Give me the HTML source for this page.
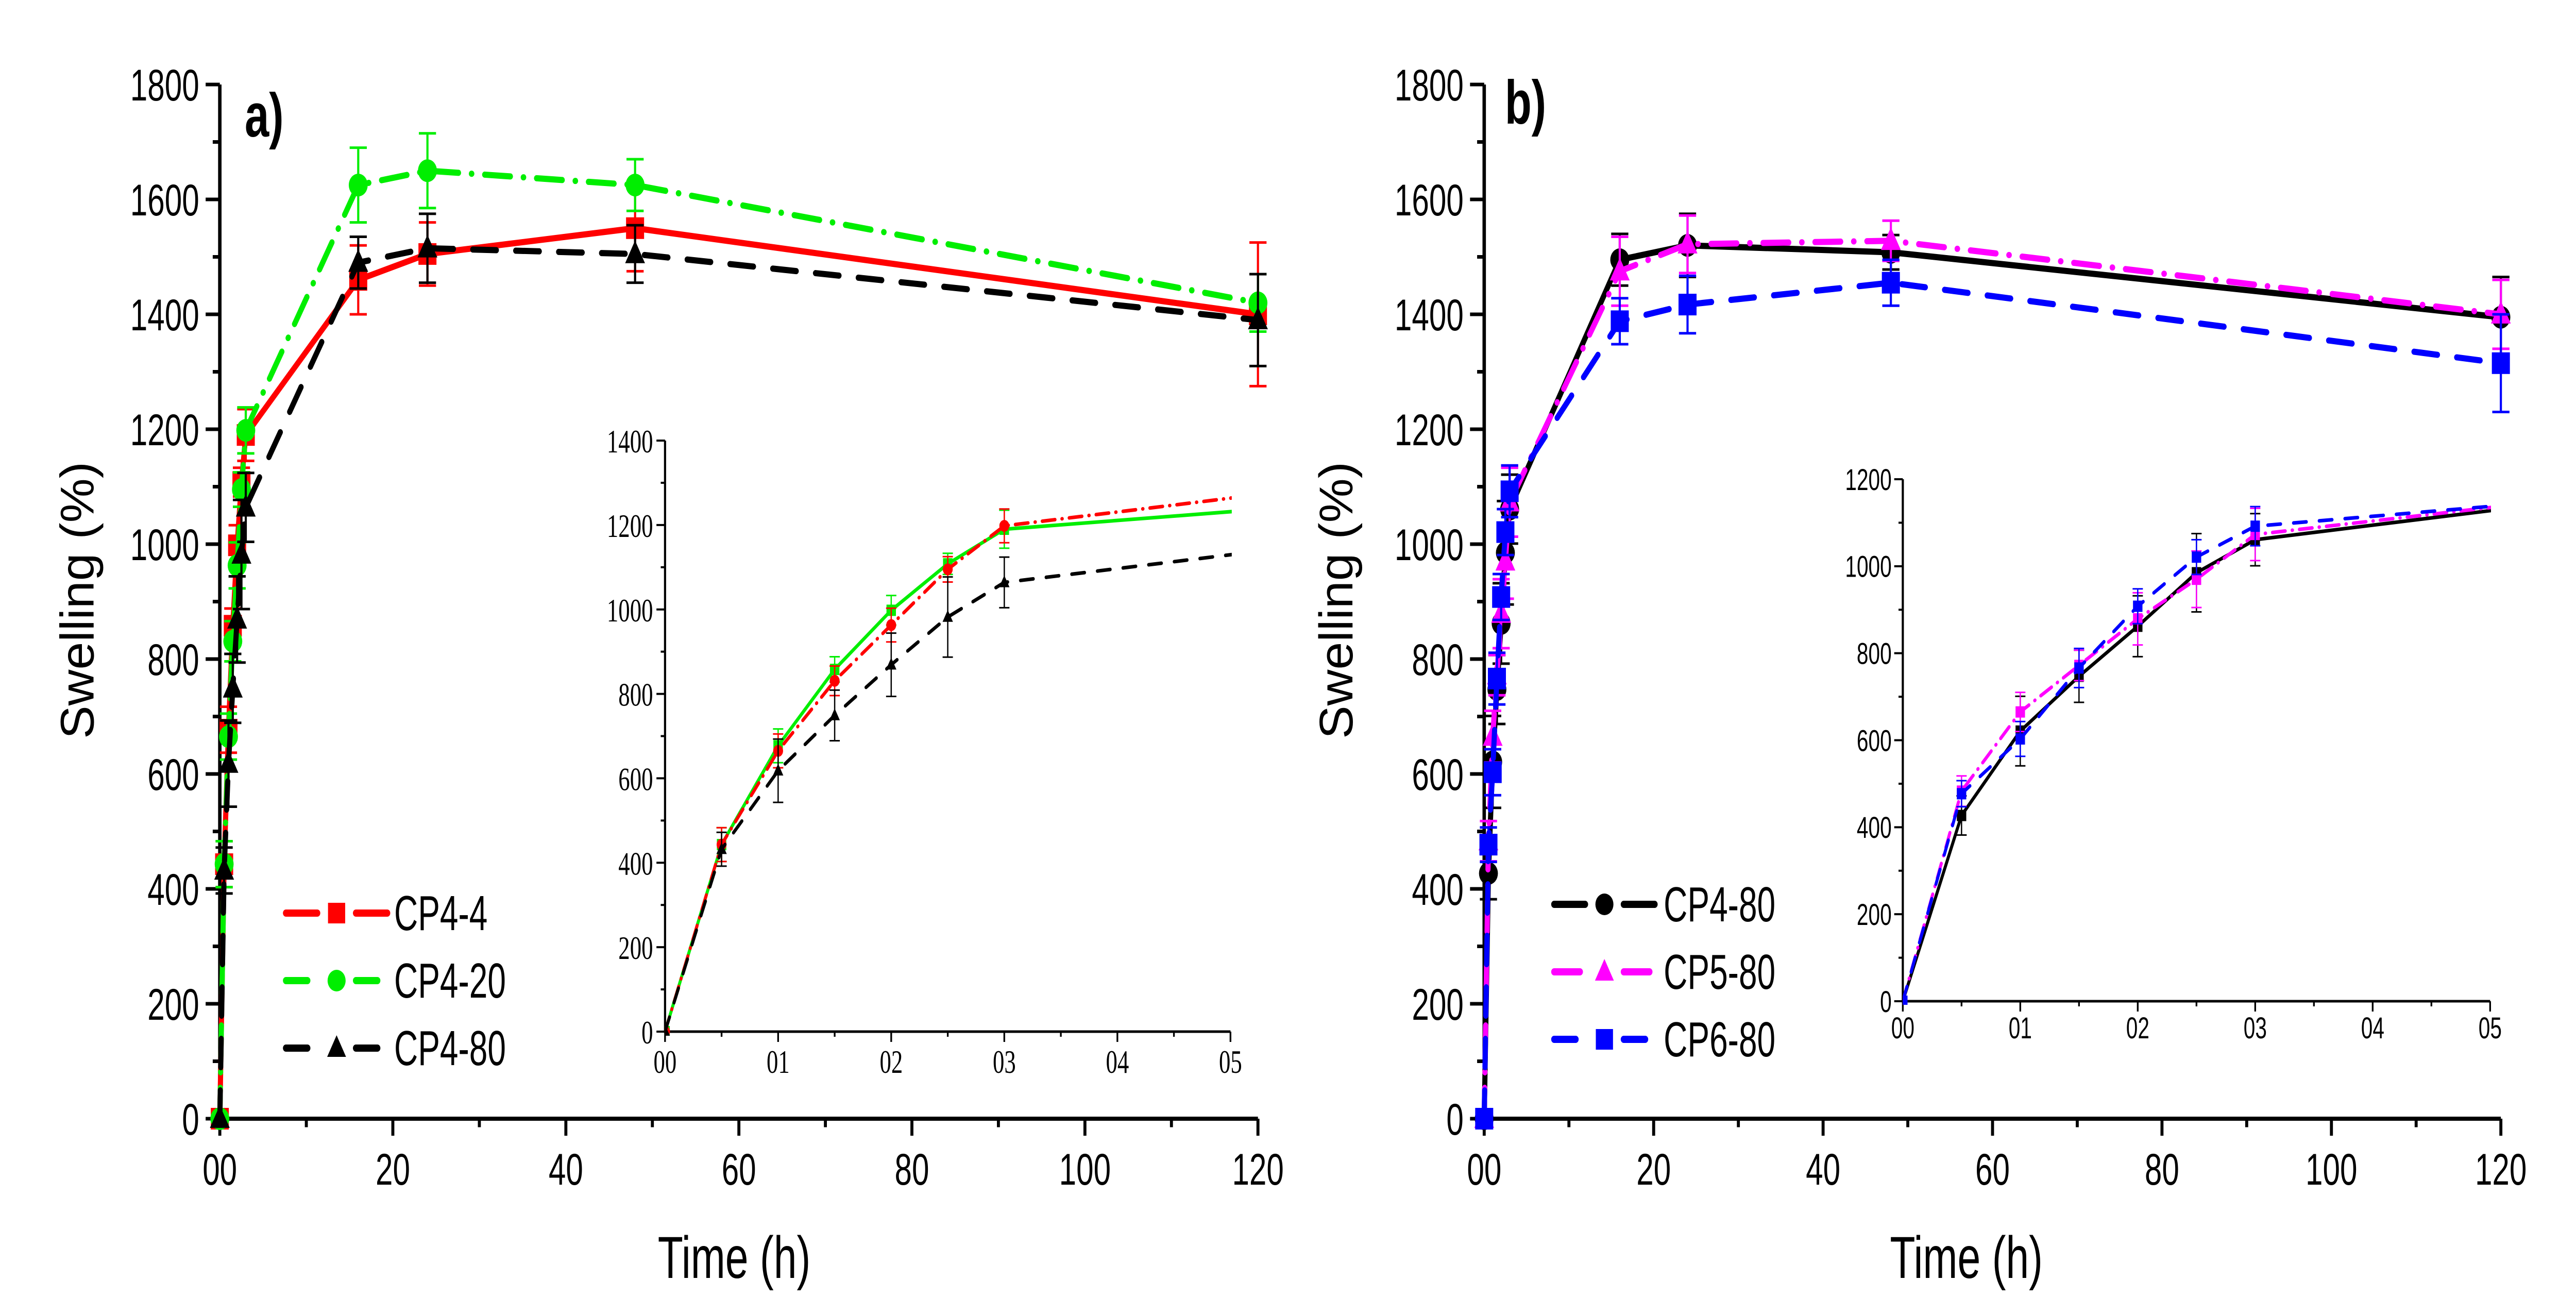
<!DOCTYPE html>
<html><head><meta charset="utf-8"><style>
html,body{margin:0;padding:0;background:#fff;overflow:hidden;width:100%;height:100%;}
svg{display:block;width:100vw;height:100vh;}
text{font-family:"Liberation Sans Narrow","Liberation Sans",sans-serif;}
.ser{font-family:"Liberation Serif",serif;}
</style></head><body>
<svg id="chart" viewBox="0 0 6000 2550" preserveAspectRatio="none" xmlns="http://www.w3.org/2000/svg">
<defs>
<clipPath id="clipA"><rect x="1549" y="700" width="1320" height="1310"/></clipPath>
<clipPath id="clipB"><rect x="4432" y="800" width="1370" height="1150"/></clipPath>
</defs>
</svg>
<script>
// ---------- data ----------
const times = [0, 0.5, 1, 1.5, 2, 2.5, 3, 16, 24, 48, 120];
const cp4_4 = [0, 443, 677, 858, 998, 1108, 1190, 1460, 1505, 1550, 1400];
const cp4_4Err = [0, 40, 40, 30, 35, 25, 45, 60, 55, 75, 125];
const cp4_20 = [0, 443, 665, 831, 963, 1095, 1198, 1625, 1650, 1625, 1420];
const cp4_20Err = [0, 40, 40, 35, 40, 30, 40, 65, 65, 45, 50];
const cp4_80 = [0, 432, 618, 749, 869, 982, 1064, 1490, 1515, 1505, 1390];
const cp4_80Err = [0, 40, 75, 60, 75, 95, 60, 45, 60, 50, 80];
const bCp4_80 = [0, 427, 621, 747, 862, 985, 1061, 1495, 1520, 1508, 1395];
const bCp4_80Err = [0, 45, 80, 60, 70, 90, 60, 45, 55, 30, 70];
const bCp5_80 = [0, 483, 665, 772, 879, 970, 1073, 1475, 1522, 1528, 1400];
const bCp5_80Err = [0, 35, 45, 35, 60, 65, 60, 60, 50, 35, 60];
const bCp6_80 = [0, 477, 603, 766, 908, 1021, 1092, 1388, 1417, 1455, 1315];
const bCp6_80Err = [0, 30, 40, 45, 40, 40, 45, 40, 50, 40, 85];
const mainXTicks = [0, 20, 40, 60, 80, 100, 120];
const mainXLabels = ["00", "20", "40", "60", "80", "100", "120"];
const mainYTicks = [0, 200, 400, 600, 800, 1000, 1200, 1400, 1600, 1800];
const insetXTicks = [0, 1, 2, 3, 4, 5];
const insetXLabels = ["00", "01", "02", "03", "04", "05"];
const insetAYTicks = [0, 200, 400, 600, 800, 1000, 1200, 1400];
const insetBYTicks = [0, 200, 400, 600, 800, 1000, 1200];

const NS = "http://www.w3.org/2000/svg";
const svg = document.getElementById("chart");
function mk(tag, attrs, parent) {
  const e = document.createElementNS(NS, tag);
  for (const k in attrs) e.setAttribute(k, attrs[k]);
  (parent || svg).appendChild(e);
  return e;
}
function axisFn(d0, d1, p0, p1) { return v => p0 + (v - d0) / (d1 - d0) * (p1 - p0); }
function txt(parent, x, y, s, size, anchor, cls, weight, sx) {
  const t = mk("text", {x: 0, y: 0, "font-size": size, "text-anchor": anchor || "middle", fill: "#000",
    transform: `translate(${x},${y}) scale(${sx || 0.84},1)`}, parent);
  if (cls) t.setAttribute("class", cls);
  if (weight) t.setAttribute("font-weight", weight);
  t.textContent = s;
  return t;
}
function marker(g, shape, cx, cy, r, color) {
  let m;
  if (shape === "square") m = mk("rect", {x: cx - r, y: cy - r, width: 2 * r, height: 2 * r, fill: color}, g);
  else if (shape === "circle") m = mk("circle", {cx: cx, cy: cy, r: r * 1.05, fill: color}, g);
  else m = mk("polygon", {points: `${cx},${cy - r * 1.25} ${cx - r * 1.1},${cy + r * 0.85} ${cx + r * 1.1},${cy + r * 0.85}`, fill: color}, g);
  return m;
}
function series(parent, xs, ys, errs, X, Y, o) {
  const g = mk("g", {}, parent);
  
  
  if (o.clip) g.setAttribute("clip-path", o.clip);
  let d = "";
  xs.forEach((t, i) => { d += (i ? "L" : "M") + X(t) + "," + Y(ys[i]); });
  const ln = mk("path", {d: d, fill: "none", stroke: o.color, "stroke-width": o.lw, "stroke-dasharray": o.dash || "none",
    "stroke-linecap": "round", "stroke-linejoin": "round"}, g);
  
  
  xs.forEach((t, i) => {
    const cx = X(t), cy = Y(ys[i]);
    if (errs && errs[i] > 0) {
      const y1 = Y(ys[i] + errs[i]), y2 = Y(ys[i] - errs[i]), w = o.cap;
      const eb = mk("path", {d: `M${cx},${y1}L${cx},${y2}M${cx - w},${y1}L${cx + w},${y1}M${cx - w},${y2}L${cx + w},${y2}`,
        stroke: o.color, "stroke-width": o.ew, fill: "none"}, g);
      
      
    }
    const m = marker(g, o.shape, cx, cy, o.ms, o.color);
    
    
  });
}
function axes(g, X, Y, xt, xl, yt, yMinor, xMinor, o) {
  const x0 = X(xt[0]), x1 = X(xt[xt.length - 1]), y0 = Y(yt[0]), y1 = Y(yt[yt.length - 1]);
  const ax = mk("path", {d: `M${x0},${y1}L${x0},${y0}L${x1},${y0}`, stroke: "#000", "stroke-width": o.aw, fill: "none"}, g);
  
  
  yt.forEach(v => {
    mk("line", {x1: x0 - o.tl, x2: x0, y1: Y(v), y2: Y(v), stroke: "#000", "stroke-width": o.tw}, g);
    const t = txt(g, x0 - o.lg, Y(v) + o.fs * 0.36, String(v), o.fs, "end", o.cls);
    
    
  });
  for (let i = 0; i < yt.length - 1; i++) {
    const v = (yt[i] + yt[i + 1]) / 2;
    mk("line", {x1: x0 - o.tl * 0.5, x2: x0, y1: Y(v), y2: Y(v), stroke: "#000", "stroke-width": o.tw}, g);
  }
  xt.forEach((v, i) => {
    mk("line", {x1: X(v), x2: X(v), y1: y0, y2: y0 + o.tl, stroke: "#000", "stroke-width": o.tw}, g);
    const t = txt(g, X(v), y0 + o.xlg, xl[i], o.fs, "middle", o.cls);
    
    
  });
  for (let i = 0; i < xt.length - 1; i++) {
    const v = (xt[i] + xt[i + 1]) / 2;
    mk("line", {x1: X(v), x2: X(v), y1: y0, y2: y0 + o.tl * 0.5, stroke: "#000", "stroke-width": o.tw}, g);
  }
}
function legend(g, x1, x2, tx, ys, entries) {
  entries.forEach((e, i) => {
    const lg = mk("g", {}, g);
    
    
    const y = ys[i], cx = (x1 + x2) / 2;
    mk("line", {x1: x1, x2: cx - 45, y1: y, y2: y, stroke: e.color, "stroke-width": 14, "stroke-dasharray": e.ldash || "none", "stroke-linecap": "round"}, lg);
    mk("line", {x1: cx + 45, x2: x2, y1: y, y2: y, stroke: e.color, "stroke-width": 14, "stroke-dasharray": e.ldash || "none", "stroke-linecap": "round"}, lg);
    marker(lg, e.shape, cx, y, 20, e.color);
    txt(lg, tx, y + 33, e.label, 96, "start", null, null, 0.8);
  });
}

// ---------- panel a ----------
const gA = mk("g", {});


const XA = axisFn(0, 120, 512, 2930), YA = axisFn(0, 1800, 2171, 164);
axes(gA, XA, YA, mainXTicks, mainXLabels, mainYTicks, true, true, {name: "main-a", aw: 8, tw: 7, tl: 33, fs: 86, lg: 48, xlg: 128});
const mA = {lw: 12, ew: 5, cap: 20, ms: 21};
series(gA, times, cp4_4, cp4_4Err, XA, YA, Object.assign({}, mA, {name: "cp4-4-series", color: "#ff0000", shape: "square"}));
series(gA, times, cp4_20, cp4_20Err, XA, YA, Object.assign({}, mA, {name: "cp4-20-series", color: "#00ee00", shape: "circle", dash: "60 30 1 30"}));
series(gA, times, cp4_80, cp4_80Err, XA, YA, Object.assign({}, mA, {name: "cp4-80-series", color: "#000000", shape: "triangle", dash: "55 45"}));
let t = txt(gA, 570, 265, "a)", 120, "start", null, "bold", 0.85);
 
t = mk("text", {x: 0, y: 0, "font-size": 110, "text-anchor": "middle", transform: "translate(218,1165) rotate(-90) scale(0.88,1)"}, gA);
t.textContent = "Swelling (%)";
 
t = txt(gA, 1710, 2480, "Time (h)", 115, "middle", null, null, 0.84);
 
legend(gA, 666, 902, 918, [1772, 1903, 2034], [
  {label: "CP4-4", color: "#ff0000", shape: "square"},
  {label: "CP4-20", color: "#00ee00", shape: "circle", ldash: "50 40 1 40"},
  {label: "CP4-80", color: "#000000", shape: "triangle", ldash: "50 60"}]);
// inset a
const gIA = mk("g", {});


const XIA = axisFn(0, 5, 1549, 2866), YIA = axisFn(0, 1400, 2002, 855);
axes(gIA, XIA, YIA, insetXTicks, insetXLabels, insetAYTicks, true, true, {name: "inset-a", aw: 5, tw: 4, tl: 20, fs: 64, lg: 28, xlg: 80, cls: "ser"});
const iA = {lw: 7, ew: 3, cap: 12, ms: 11, clip: "url(#clipA)"};
series(gIA, times, cp4_4, cp4_4Err, XIA, YIA, Object.assign({}, iA, {name: "inset-cp4-4-series", color: "#00ee00", shape: "square"}));
series(gIA, times, cp4_20, cp4_20Err, XIA, YIA, Object.assign({}, iA, {name: "inset-cp4-20-series", color: "#ff0000", shape: "circle", dash: "30 16 1 16"}));
series(gIA, times, cp4_80, cp4_80Err, XIA, YIA, Object.assign({}, iA, {name: "inset-cp4-80-series", color: "#000000", shape: "triangle", dash: "30 30"}));

// ---------- panel b ----------
const gB = mk("g", {});


const XB = axisFn(0, 120, 3457, 5825), YB = axisFn(0, 1800, 2171, 164);
axes(gB, XB, YB, mainXTicks, mainXLabels, mainYTicks, true, true, {name: "main-b", aw: 8, tw: 7, tl: 33, fs: 86, lg: 48, xlg: 128});
series(gB, times, bCp4_80, bCp4_80Err, XB, YB, Object.assign({}, mA, {name: "b-cp4-80-series", color: "#000000", shape: "circle"}));
series(gB, times, bCp5_80, bCp5_80Err, XB, YB, Object.assign({}, mA, {name: "b-cp5-80-series", color: "#ff00ff", shape: "triangle", dash: "60 30 1 30"}));
series(gB, times, bCp6_80, bCp6_80Err, XB, YB, Object.assign({}, mA, {name: "b-cp6-80-series", color: "#0000ff", shape: "square", dash: "55 45"}));
t = txt(gB, 3505, 240, "b)", 120, "start", null, "bold", 0.85);
 
t = mk("text", {x: 0, y: 0, "font-size": 110, "text-anchor": "middle", transform: "translate(3150,1165) rotate(-90) scale(0.88,1)"}, gB);
t.textContent = "Swelling (%)";
 
t = txt(gB, 4580, 2480, "Time (h)", 115, "middle", null, null, 0.84);
 
legend(gB, 3620, 3854, 3875, [1755, 1886, 2017], [
  {label: "CP4-80", color: "#000000", shape: "circle"},
  {label: "CP5-80", color: "#ff00ff", shape: "triangle", ldash: "60 90"},
  {label: "CP6-80", color: "#0000ff", shape: "square", ldash: "50 100"}]);
// inset b
const gIB = mk("g", {});


const XIB = axisFn(0, 5, 4432, 5800), YIB = axisFn(0, 1200, 1943, 930);
axes(gIB, XIB, YIB, insetXTicks, insetXLabels, insetBYTicks, true, true, {name: "inset-b", aw: 5, tw: 4, tl: 20, fs: 58, lg: 26, xlg: 72});
const iB = {lw: 7, ew: 3, cap: 12, ms: 11, clip: "url(#clipB)"};
series(gIB, times, bCp4_80, bCp4_80Err, XIB, YIB, Object.assign({}, iB, {name: "inset-b-cp4-80-series", color: "#000000", shape: "square"}));
series(gIB, times, bCp5_80, bCp5_80Err, XIB, YIB, Object.assign({}, iB, {name: "inset-b-cp5-80-series", color: "#ff00ff", shape: "square", dash: "30 16 1 16"}));
series(gIB, times, bCp6_80, bCp6_80Err, XIB, YIB, Object.assign({}, iB, {name: "inset-b-cp6-80-series", color: "#0000ff", shape: "square", dash: "30 30"}));
</script>
</body></html>
